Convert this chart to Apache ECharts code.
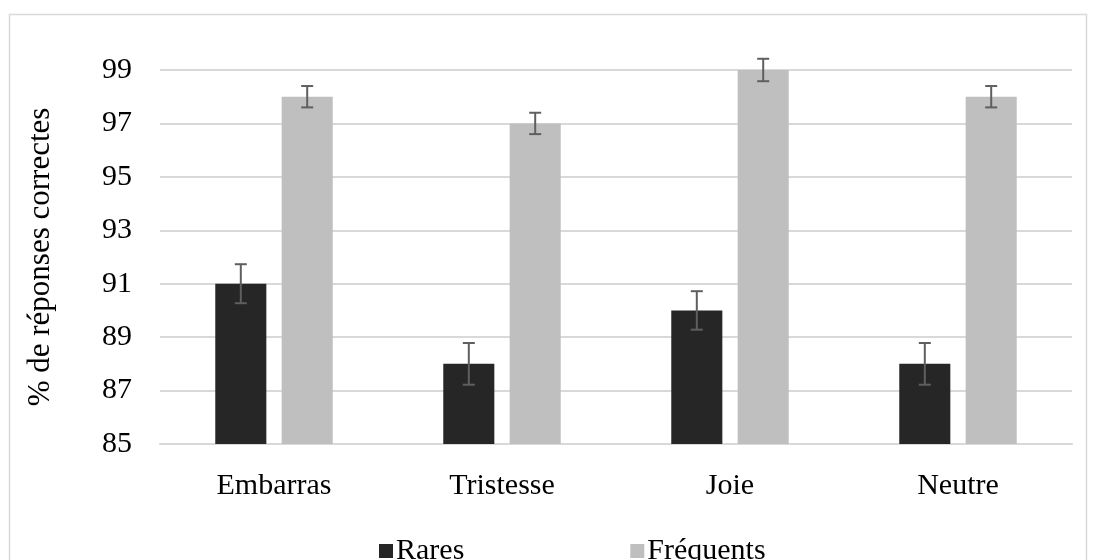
<!DOCTYPE html>
<html>
<head>
<meta charset="UTF-8">
<title>Réponses correctes</title>
<style>
html, body { margin: 0; padding: 0; background: #fff; }
#main { width: 1097px; height: 560px; }
</style>
</head>
<body>
<div id="main"></div>
<script src="https://cdn.jsdelivr.net/npm/echarts@6/dist/echarts.min.js"></script>
<script>
var categories = ['Embarras', 'Tristesse', 'Joie', 'Neutre'];
var rares = [91, 88, 90, 88];
var raresErr = [0.73, 0.78, 0.72, 0.78];
var frequents = [98, 97, 99, 98];
var frequentsErr = [0.4, 0.4, 0.42, 0.4];
var yTicks = [85, 87, 89, 91, 93, 95, 97, 99];

var font = "'Liberation Serif', 'Times New Roman', serif";
var barPct = 0.224, gapPct = 0.3;

// error bars drawn on top of the bars, shifted left (-1) or right (+1)
function errSeries(vals, errs, side) {
  var data = vals.map(function (v, i) { return [i, v - errs[i], v + errs[i]]; });
  return {
    type: 'custom',
    z: 10,
    silent: true,
    data: data,
    renderItem: function (params, api) {
      var band = api.size([1, 0])[0];
      var bw = band * barPct;
      var off = side * (bw + bw * gapPct) / 2;
      var lo = api.coord([api.value(0), api.value(1)]);
      var hi = api.coord([api.value(0), api.value(2)]);
      var x = lo[0] + off, c = 6;
      var st = { stroke: '#5f5f5f', lineWidth: 2 };
      return {
        type: 'group',
        children: [
          { type: 'line', shape: { x1: x, y1: lo[1], x2: x, y2: hi[1] }, style: st },
          { type: 'line', shape: { x1: x - c, y1: lo[1], x2: x + c, y2: lo[1] }, style: st },
          { type: 'line', shape: { x1: x - c, y1: hi[1], x2: x + c, y2: hi[1] }, style: st }
        ]
      };
    }
  };
}

var chart = echarts.init(document.getElementById('main'));
chart.setOption({
  animation: false,
  textStyle: { fontFamily: font, color: '#000' },
  graphic: [{
    type: 'rect',
    shape: { x: 9.5, y: 14.5, width: 1077, height: 560 },
    style: { fill: null, stroke: '#d9d9d9', lineWidth: 1.5 },
    silent: true
  }],
  grid: { left: 160, right: 25, top: 70, bottom: 116 },
  legend: {
    data: ['Rares', 'Fréquents'],
    left: 374,
    top: 531,
    itemWidth: 14,
    itemHeight: 14,
    itemGap: 166,
    icon: 'rect',
    textStyle: { fontFamily: font, fontSize: 30, color: '#000', padding: [0, 0, 0, -2] }
  },
  xAxis: {
    type: 'category',
    data: categories,
    axisLine: { lineStyle: { color: '#d9d9d9', width: 2 } },
    axisTick: { show: false },
    axisLabel: { fontFamily: font, fontSize: 30, color: '#000', margin: 27 }
  },
  yAxis: {
    type: 'value',
    min: yTicks[0],
    max: yTicks[yTicks.length - 1],
    interval: 2,
    name: '% de réponses correctes',
    nameLocation: 'middle',
    nameGap: 104,
    nameTextStyle: { fontFamily: font, fontSize: 31, color: '#000' },
    axisLine: { show: false },
    axisTick: { show: false },
    axisLabel: { fontFamily: font, fontSize: 30, color: '#000', margin: 28 },
    splitLine: { lineStyle: { color: '#d9d9d9', width: 2 } }
  },
  series: [
    {
      name: 'Rares', type: 'bar', data: rares,
      barWidth: (barPct * 100) + '%', barGap: (gapPct * 100) + '%',
      itemStyle: { color: '#262626' }
    },
    {
      name: 'Fréquents', type: 'bar', data: frequents,
      barWidth: (barPct * 100) + '%',
      itemStyle: { color: '#bfbfbf' }
    },
    errSeries(rares, raresErr, -1),
    errSeries(frequents, frequentsErr, 1)
  ]
});
</script>
</body>
</html>
